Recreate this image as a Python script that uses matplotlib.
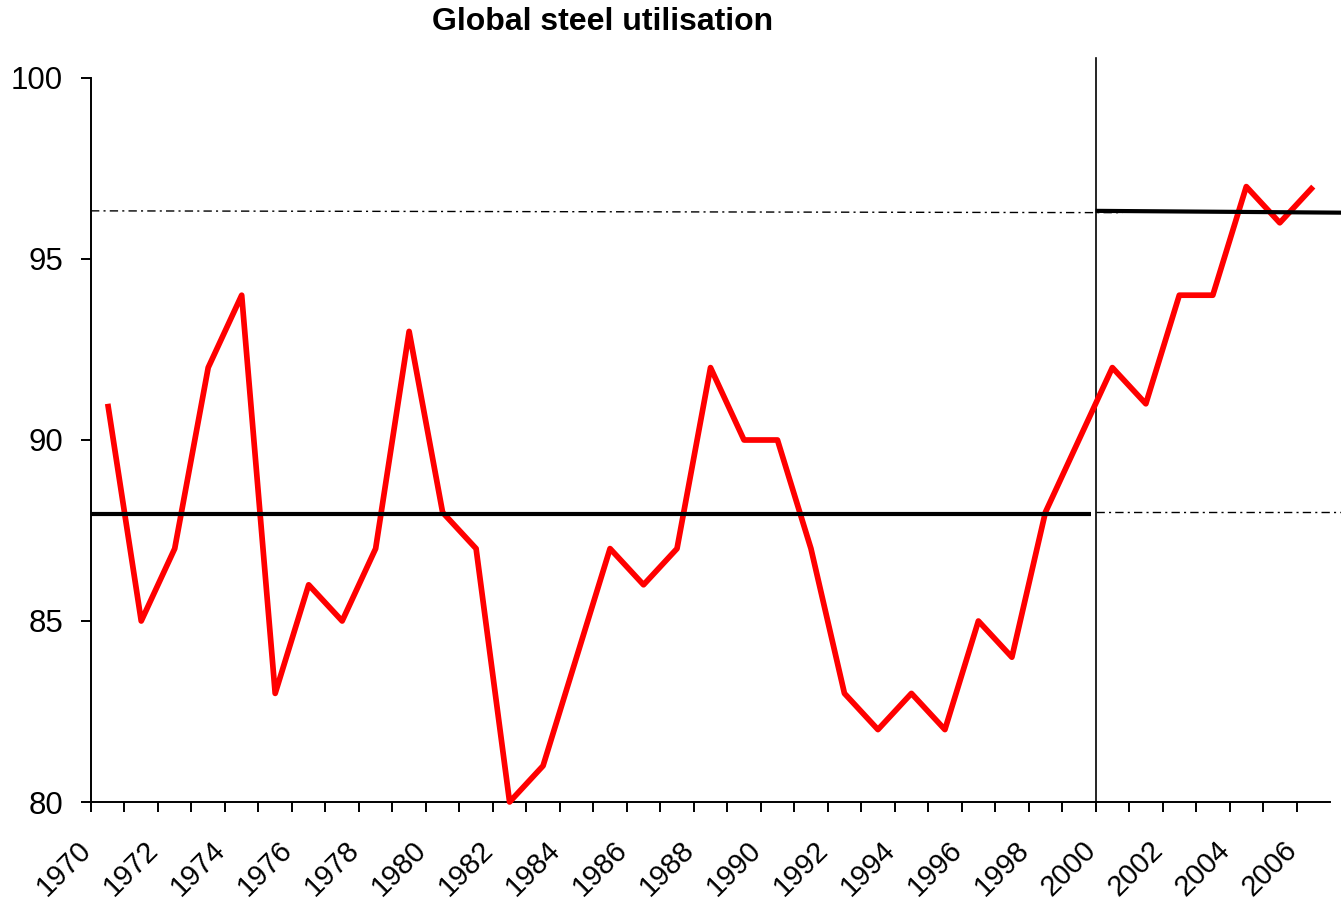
import matplotlib
matplotlib.use("Agg")
import matplotlib.pyplot as plt
import matplotlib.transforms as mtransforms
import numpy as np

plt.rcParams['font.family'] = ['Liberation Sans', 'DejaVu Sans']

years = list(range(1970, 2007))
utilisation = [91, 85, 87, 92, 94, 83, 86, 85, 87, 93,
               88, 87, 80, 81, 84, 87, 86, 87, 92, 90,
               90, 87, 83, 82, 83, 82, 85, 84, 88, 90,
               92, 91, 94, 94, 97, 96, 97]
tick_years = list(range(1970, 2007))
label_years = list(range(1970, 2007, 2))

avg_early = 87.95          # 1970-1999 average (solid)
avg_late = (96.33, 96.28)  # 2000s average (solid, slight slope)
title = "Global steel utilisation"

W, H = 1341, 906
fig = plt.figure(figsize=(W / 100, H / 100), dpi=100)
ax = fig.add_axes([91 / W, (H - 802) / H, (1330 - 91) / W, (802 - 78) / H])

x = np.array(years) + 0.5
ax.plot(x, utilisation, color='#ff0000', lw=4.1, solid_joinstyle='round',
        solid_capstyle='butt', zorder=3, clip_on=False)

# averages
ax.plot([1970, 1999.85], [avg_early, avg_early], color='black', lw=3.0, zorder=4,
        clip_on=False, solid_capstyle='butt')
ax.plot([2000, 2007.35], [avg_late[0], avg_late[1]], color='black', lw=3.0, zorder=4,
        clip_on=False, solid_capstyle='butt')
ax.plot([1970, 2000.8], [avg_late[0], avg_late[1]], color='black', lw=1.0,
        linestyle=(0, (6, 3, 1.5, 3)), zorder=2, clip_on=False)
ax.plot([2000, 2007.35], [88.0, 88.0], color='black', lw=1.0,
        linestyle=(0, (6, 3, 1.5, 3)), zorder=2, clip_on=False)
ax.plot([2000, 2000], [80, 100.55], color='black', lw=1.2, zorder=2, clip_on=False)

ax.set_xlim(1970, 2007)
ax.set_ylim(80, 100)
ax.set_yticks([80, 85, 90, 95, 100])
ax.set_xticks(tick_years)
ax.set_xticklabels([str(y) if y in label_years else '' for y in tick_years],
                   rotation=45, ha='right', va='center', rotation_mode='anchor')
for s in ['top', 'right']:
    ax.spines[s].set_visible(False)
for s in ['left', 'bottom']:
    ax.spines[s].set_linewidth(1.4)
ax.tick_params(axis='x', direction='out', length=7.2, width=1.4, labelsize=21, pad=24)
ax.tick_params(axis='y', direction='out', length=7.2, width=1.4, labelsize=22.5, pad=13)

offset = mtransforms.ScaledTranslation(-4 / 100, 0, fig.dpi_scale_trans)
for lab in ax.get_xticklabels():
    lab.set_transform(lab.get_transform() + offset)

fig.text(603 / W, 1 - 22 / H, title, ha='center', va='center', fontsize=23, fontweight='bold')

fig.savefig('out.png', dpi=100)
